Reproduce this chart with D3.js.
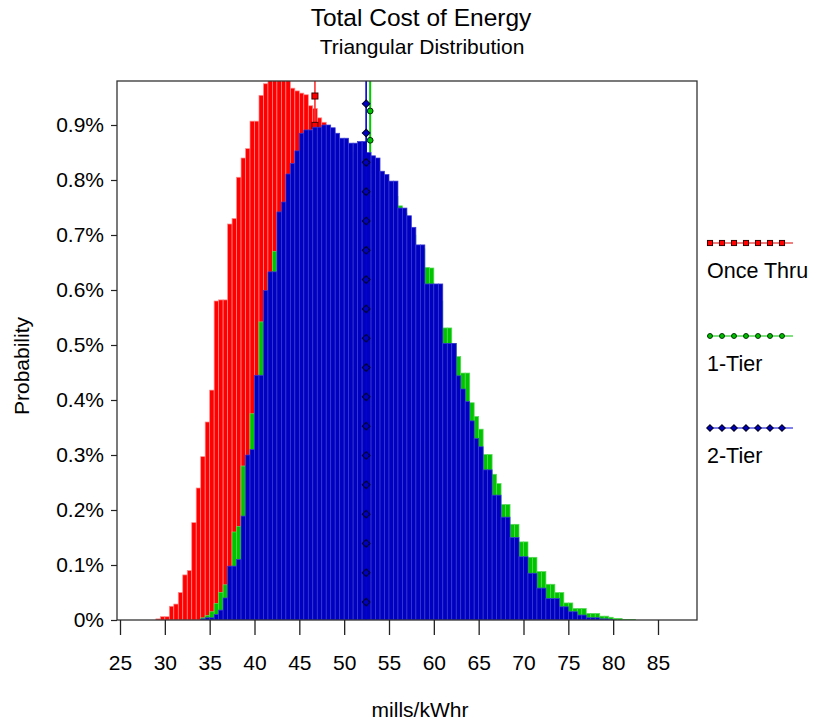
<!DOCTYPE html>
<html>
<head>
<meta charset="utf-8">
<script src="https://cdn.jsdelivr.net/npm/d3@7"></script>
<style>
  body { margin: 0; background: #fff; }
  svg { display: block; }
  text { font-family: "Liberation Sans", Arial, Helvetica, sans-serif; fill: #000; }
</style>
</head>
<body>
<svg id="chart" width="813" height="725"></svg>
<script>
// ---- Data -------------------------------------------------------------
// Histogram bins (lower edge, mills/kWhr), each 0.5 wide
const binWidth = 0.5;
const binStarts = [
  29.0, 29.5, 30.0, 30.5, 31.0, 31.5, 32.0, 32.5, 33.0, 33.5,
  34.0, 34.5, 35.0, 35.5, 36.0, 36.5, 37.0, 37.5, 38.0, 38.5,
  39.0, 39.5, 40.0, 40.5, 41.0, 41.5, 42.0, 42.5, 43.0, 43.5,
  44.0, 44.5, 45.0, 45.5, 46.0, 46.5, 47.0, 47.5, 48.0, 48.5,
  49.0, 49.5, 50.0, 50.5, 51.0, 51.5, 52.0, 52.5, 53.0, 53.5,
  54.0, 54.5, 55.0, 55.5, 56.0, 56.5, 57.0, 57.5, 58.0, 58.5,
  59.0, 59.5, 60.0, 60.5, 61.0, 61.5, 62.0, 62.5, 63.0, 63.5,
  64.0, 64.5, 65.0, 65.5, 66.0, 66.5, 67.0, 67.5, 68.0, 68.5,
  69.0, 69.5, 70.0, 70.5, 71.0, 71.5, 72.0, 72.5, 73.0, 73.5,
  74.0, 74.5, 75.0, 75.5, 76.0, 76.5, 77.0, 77.5, 78.0, 78.5,
  79.0, 79.5, 80.0, 80.5, 81.0, 81.5, 82.0, 82.5
];

// Probability per bin (%)
const onceThru = [
  0.002, 0.006, 0.006, 0.025, 0.029, 0.05, 0.082, 0.09, 0.177, 0.24,
  0.297, 0.36, 0.418, 0.58, 0.582, 0.582, 0.72, 0.73, 0.805, 0.84,
  0.857, 0.907, 0.907, 0.954, 0.975, 1.0, 1.0, 1.01, 1.0, 0.99,
  0.967, 0.962, 0.958, 0.955, 0.935, 0.93, 0.913, 0.905, 0.89, 0.87,
  0.85, 0.82, 0.79, 0.76, 0.73, 0.70, 0.67, 0.65, 0.62, 0.595,
  0.57, 0.545, 0.51, 0.485, 0.46, 0.43, 0.40, 0.375, 0.35, 0.32,
  0.298, 0.27, 0.245, 0.22, 0.19, 0.175, 0.16, 0.145, 0.13, 0.115,
  0.104, 0.09, 0.08, 0.07, 0.06, 0.052, 0.045, 0.038, 0.031, 0.025,
  0.02, 0.011, 0.007, 0.004, 0.002, 0.001, 0, 0, 0, 0,
  0, 0, 0, 0, 0, 0, 0, 0, 0, 0,
  0, 0, 0, 0, 0, 0, 0, 0
];
const oneTier = [
  0, 0, 0, 0, 0, 0, 0, 0, 0, 0,
  0.004, 0.008, 0.015, 0.03, 0.05, 0.064, 0.095, 0.16, 0.17, 0.28,
  0.29, 0.375, 0.43, 0.542, 0.55, 0.63, 0.67, 0.67, 0.72, 0.76,
  0.80, 0.83, 0.85, 0.86, 0.87, 0.875, 0.88, 0.88, 0.88, 0.875,
  0.87, 0.86, 0.855, 0.85, 0.85, 0.845, 0.84, 0.835, 0.82, 0.81,
  0.80, 0.79, 0.78, 0.77, 0.753, 0.74, 0.71, 0.70, 0.68, 0.675,
  0.641, 0.64, 0.60, 0.58, 0.531, 0.531, 0.503, 0.479, 0.449, 0.449,
  0.395, 0.37, 0.347, 0.301, 0.301, 0.265, 0.248, 0.21, 0.21, 0.174,
  0.174, 0.142, 0.142, 0.114, 0.114, 0.088, 0.088, 0.065, 0.065, 0.05,
  0.05, 0.031, 0.031, 0.021, 0.021, 0.021, 0.012, 0.012, 0.012, 0.007,
  0.007, 0.005, 0.003, 0.003, 0.001, 0.001, 0.001, 0
];
const twoTier = [
  0, 0, 0, 0, 0, 0, 0, 0, 0, 0,
  0.002, 0.004, 0.004, 0.01, 0.018, 0.04, 0.098, 0.098, 0.11, 0.189,
  0.30, 0.31, 0.445, 0.445, 0.599, 0.633, 0.633, 0.742, 0.76, 0.811,
  0.83, 0.853, 0.885, 0.891, 0.891, 0.896, 0.896, 0.90, 0.90, 0.895,
  0.885, 0.876, 0.876, 0.867, 0.867, 0.87, 0.87, 0.85, 0.844, 0.84,
  0.816, 0.81, 0.798, 0.798, 0.749, 0.749, 0.735, 0.714, 0.682, 0.682,
  0.611, 0.611, 0.611, 0.611, 0.503, 0.503, 0.503, 0.444, 0.42, 0.397,
  0.362, 0.33, 0.315, 0.273, 0.273, 0.227, 0.227, 0.187, 0.187, 0.15,
  0.15, 0.115, 0.115, 0.085, 0.085, 0.058, 0.058, 0.039, 0.039, 0.039,
  0.024, 0.024, 0.015, 0.015, 0.009, 0.009, 0.004, 0.004, 0.004, 0.002,
  0.002, 0.001, 0, 0, 0, 0, 0, 0
];

// Mean markers (vertical reference lines) and the probability levels of their markers
const seriesNames = ["Once Thru", "1-Tier", "2-Tier"];
const seriesMeans = [46.74, 52.9, 52.45];
const onceThruMarks = [0.9527, 0.8994, 0.8461, 0.7928, 0.7395, 0.6862, 0.6329, 0.5796, 0.5263,
  0.473, 0.4197, 0.3664, 0.3131, 0.2598, 0.2065, 0.1532, 0.0999, 0.0466];
const oneTierMarks = [0.9255, 0.8722, 0.8189, 0.7656, 0.7123, 0.659, 0.6057, 0.5524, 0.4991,
  0.4458, 0.3925, 0.3392, 0.2859, 0.2326, 0.1793, 0.126, 0.0727, 0.0194];
const twoTierMarks = [0.9387, 0.8854, 0.8321, 0.7788, 0.7255, 0.6722, 0.6189, 0.5656, 0.5123,
  0.459, 0.4057, 0.3524, 0.2991, 0.2458, 0.1925, 0.1392, 0.0859, 0.0326];

// Axis ticks
const xTicks = [25, 30, 35, 40, 45, 50, 55, 60, 65, 70, 75, 80, 85];
const yTicks = [0, 0.1, 0.2, 0.3, 0.4, 0.5, 0.6, 0.7, 0.8, 0.9];

// ---- Layout -----------------------------------------------------------
const svg = d3.select("#chart");
const plot = { left: 117, right: 697, top: 81, bottom: 620 };
const FONT = "Liberation Sans, Arial, sans-serif";

const x = d3.scaleLinear().domain([25, 85]).range([120, 658]);
const y = d3.scaleLinear().domain([0, 0.9]).range([620, 125]);
const yTop = y.invert(plot.top);

const styles = [
  { fill: "#ff0000", edge: "#ff8c8c", line: "#ff3030", legendLine: "#f08080", markFill: "#ff0000", markStroke: "#3a0000", shape: "square" },
  { fill: "#00c400", edge: "#5ada5a", line: "#00cc00", legendLine: "#80e080", markFill: "#00c000", markStroke: "#003000", shape: "circle" },
  { fill: "#0000c0", edge: "#3c3cd6", line: "#0000d0", legendLine: "#8080ee", markFill: "#0000c0", markStroke: "#000030", shape: "diamond" }
];
const seriesValues = [onceThru, oneTier, twoTier];
const seriesMarks = [onceThruMarks, oneTierMarks, twoTierMarks];

svg.append("defs").append("clipPath").attr("id", "plotClip")
  .append("rect")
  .attr("x", plot.left).attr("y", plot.top)
  .attr("width", plot.right - plot.left).attr("height", plot.bottom - plot.top);

const plotG = svg.append("g").attr("clip-path", "url(#plotClip)");

function drawMarker(g, shape, cx, cy, st, scale) {
  const s = scale || 1;
  if (shape === "square") {
    g.append("rect")
      .attr("x", cx - 3 * s).attr("y", cy - 3 * s)
      .attr("width", 6 * s).attr("height", 6 * s)
      .attr("fill", st.markFill).attr("stroke", st.markStroke).attr("stroke-width", 1);
  } else if (shape === "circle") {
    g.append("circle")
      .attr("cx", cx).attr("cy", cy).attr("r", 2.9 * s)
      .attr("fill", st.markFill).attr("stroke", st.markStroke).attr("stroke-width", 1);
  } else {
    const r = 3.8 * s;
    g.append("path")
      .attr("d", `M${cx},${cy - r}L${cx + r},${cy}L${cx},${cy + r}L${cx - r},${cy}Z`)
      .attr("fill", st.markFill).attr("stroke", st.markStroke).attr("stroke-width", 1.1);
  }
}

// Each series: its histogram bars, then its mean line with markers
seriesValues.forEach((vals, si) => {
  const st = styles[si];
  const bins = binStarts.map((b, i) => ({ x0: b, x1: b + binWidth, p: vals[i] }))
    .filter(d => d.p > 0);

  plotG.append("g")
    .selectAll("rect")
    .data(bins)
    .join("rect")
    .attr("x", d => x(d.x0))
    .attr("width", d => x(d.x1) - x(d.x0))
    .attr("y", d => y(d.p))
    .attr("height", d => y(0) - y(d.p))
    .attr("fill", st.fill)
    .attr("stroke", st.edge)
    .attr("stroke-width", 0.7);

  const mg = plotG.append("g");
  mg.append("line")
    .attr("x1", x(seriesMeans[si])).attr("x2", x(seriesMeans[si]))
    .attr("y1", y(0)).attr("y2", y(yTop))
    .attr("stroke", st.line).attr("stroke-width", si === 1 ? 2 : 1.6);
  seriesMarks[si].forEach(v => drawMarker(mg, st.shape, x(seriesMeans[si]), y(v), st));
});

// Plot frame
svg.append("rect")
  .attr("x", plot.left).attr("y", plot.top)
  .attr("width", plot.right - plot.left).attr("height", plot.bottom - plot.top)
  .attr("fill", "none").attr("stroke", "#333").attr("stroke-width", 1.3);

// Axes
const yAxis = d3.axisLeft(y)
  .tickValues(yTicks)
  .tickSize(6)
  .tickPadding(7)
  .tickFormat(d => (d === 0 ? "0" : d3.format(".1f")(d)) + "%");
const yg = svg.append("g").attr("transform", `translate(${plot.left},0)`).call(yAxis);
yg.select(".domain").remove();
yg.selectAll(".tick line").attr("stroke", "#222").attr("stroke-width", 1.2);
yg.selectAll(".tick text").style("font-size", "21px").style("font-family", FONT).attr("fill", "#000");

const xAxis = d3.axisBottom(x)
  .tickValues(xTicks)
  .tickSize(15)
  .tickPadding(20)
  .tickFormat(d3.format("d"));
const xg = svg.append("g").attr("transform", `translate(0,${plot.bottom})`).call(xAxis);
xg.select(".domain").remove();
xg.selectAll(".tick line").attr("stroke", "#222").attr("stroke-width", 1.3);
xg.selectAll(".tick text").style("font-size", "21px").style("font-family", FONT).attr("fill", "#000");

// Titles
svg.append("text").attr("x", 421).attr("y", 26).attr("text-anchor", "middle")
  .style("font-size", "24.5px").text("Total Cost of Energy");
svg.append("text").attr("x", 422).attr("y", 54).attr("text-anchor", "middle")
  .style("font-size", "21px").text("Triangular Distribution");
svg.append("text").attr("x", 420).attr("y", 717).attr("text-anchor", "middle")
  .style("font-size", "21px").text("mills/kWhr");
svg.append("text").attr("transform", "translate(29,366) rotate(-90)").attr("text-anchor", "middle")
  .style("font-size", "21px").text("Probability");

// Legend
const legendRows = [243, 336, 428];
const legendMarkX = [710, 722, 734, 746, 758, 770, 782];
seriesNames.forEach((name, si) => {
  const st = styles[si];
  const g = svg.append("g");
  const ly = legendRows[si];
  g.append("line").attr("x1", 707).attr("x2", 793).attr("y1", ly).attr("y2", ly)
    .attr("stroke", st.legendLine).attr("stroke-width", 2);
  legendMarkX.forEach(mx => drawMarker(g, st.shape, mx, ly, st, 0.85));
  g.append("text").attr("x", 707).attr("y", ly + 35).style("font-size", "21.5px").text(name);
});
</script>
</body>
</html>
